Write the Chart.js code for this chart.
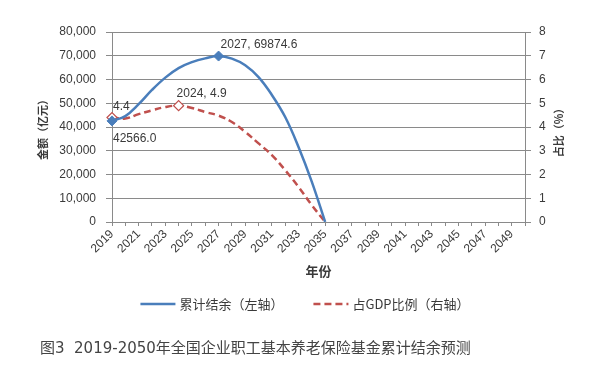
<!DOCTYPE html>
<html><head><meta charset="utf-8">
<script src="https://cdn.jsdelivr.net/npm/chart.js@4.4.1/dist/chart.umd.min.js"></script>
<style>
html,body{margin:0;padding:0;background:#fff;width:610px;height:380px;overflow:hidden}
#c{position:absolute;left:0;top:0}
#cap{position:absolute;left:40px;top:338px;font:15px "DejaVu Sans","Noto Sans CJK SC",sans-serif;color:#444;line-height:20px;white-space:pre}
</style></head><body>
<canvas id="c" width="610" height="380"></canvas>
<div id="cap">图3  2019-2050年全国企业职工基本养老保险基金累计结余预测</div>
<script>
const years = ['2019','2020','2021','2022','2023','2024','2025','2026','2027','2028','2029','2030','2031','2032','2033','2034','2035','2036','2037','2038','2039','2040','2041','2042','2043','2044','2045','2046','2047','2048','2049','2050'];
const balance = [42566.0, 44600, 49600, 55600, 60800, 64800, 67300, 68900, 69874.6, 68800, 66000, 61000, 53500, 44200, 31600, 16900, 0, null, null, null, null, null, null, null, null, null, null, null, null, null, null, null];
const gdpShare = [4.4, 4.36, 4.54, 4.7, 4.84, 4.9, 4.8, 4.63, 4.48, 4.21, 3.79, 3.31, 2.82, 2.18, 1.48, 0.71, 0, null, null, null, null, null, null, null, null, null, null, null, null, null, null, null];
const leftTicks = [0, 10000, 20000, 30000, 40000, 50000, 60000, 70000, 80000];
const rightTicks = [0, 1, 2, 3, 4, 5, 6, 7, 8];
const seriesNames = ['累计结余（左轴）', '占GDP比例（右轴）'];
const axisTitles = {x: '年份', left: '金额（亿元）', right: '占比（%）'};

const LAT = '"Liberation Sans", Arial, sans-serif';
const CJK = '"Noto Sans CJK SC", sans-serif';
const BLUE = '#4a7ebb', RED = '#c0504d', GRID = '#8a8a8a', TXT = '#3a3a3a';

const blueMarks = [0, 8];
const redMarks = [5, 0];

const labels = [
  {ds: 0, i: 8, text: years[8] + ', ' + balance[8].toFixed(1), dx: 2, dy: -11},
  {ds: 0, i: 0, text: balance[0].toFixed(1), dx: 1, dy: 18},
  {ds: 1, i: 5, text: years[5] + ', ' + gdpShare[5].toFixed(1), dx: -2, dy: -12},
  {ds: 1, i: 0, text: gdpShare[0].toFixed(1), dx: 1, dy: -11}
];

const extras = {
  id: 'extras',
  afterDatasetsDraw(chart) {
    const ctx = chart.ctx;
    ctx.save();
    ctx.font = '12px ' + LAT;
    ctx.fillStyle = TXT;
    ctx.textBaseline = 'middle';
    ctx.textAlign = 'left';
    for (const l of labels) {
      const el = chart.getDatasetMeta(l.ds).data[l.i];
      ctx.fillText(l.text, el.x + l.dx, el.y + l.dy);
    }
    ctx.restore();
  },
  afterDraw(chart) {
    const ctx = chart.ctx;
    const s = chart.scales.y1;
    ctx.save();
    ctx.font = 'bold 11px ' + CJK;
    ctx.fillStyle = TXT;
    ctx.textAlign = 'center';
    ctx.textBaseline = 'middle';
    ctx.translate(s.left + 34, (s.top + s.bottom) / 2 + 3);
    ctx.rotate(-Math.PI / 2);
    ctx.fillText(axisTitles.right, 0, 0);
    ctx.restore();

    ctx.save();
    ctx.font = '13px ' + CJK;
    const ds = chart.data.datasets;
    const lineW = 35, gap = 4, between = 30;
    let total = 0;
    const widths = ds.map(d => ctx.measureText(d.label).width);
    widths.forEach((w, k) => { total += lineW + gap + w + (k ? between : 0); });
    let x = (chart.width - total) / 2;
    const y = 304;
    ds.forEach((d, k) => {
      ctx.beginPath();
      ctx.strokeStyle = d.borderColor;
      ctx.lineWidth = 2.5;
      ctx.setLineDash(d.borderDash || []);
      ctx.moveTo(x, y); ctx.lineTo(x + lineW, y);
      ctx.stroke();
      ctx.setLineDash([]);
      ctx.fillStyle = TXT;
      ctx.textBaseline = 'middle';
      ctx.textAlign = 'left';
      ctx.fillText(d.label, x + lineW + gap, y);
      x += lineW + gap + widths[k] + between;
    });
    ctx.restore();
  }
};

new Chart(document.getElementById('c'), {
  type: 'line',
  data: {
    labels: years,
    datasets: [
      {
        label: seriesNames[0], data: balance, yAxisID: 'y',
        borderColor: BLUE, backgroundColor: BLUE, borderWidth: 2.5,
        tension: 0.4, fill: false,
        pointStyle: 'rectRot',
        pointRadius: balance.map((v, i) => blueMarks.includes(i) ? 5 : 0),
        pointBackgroundColor: BLUE, pointBorderColor: BLUE, pointBorderWidth: 1
      },
      {
        label: seriesNames[1], data: gdpShare, yAxisID: 'y1',
        borderColor: RED, backgroundColor: RED, borderWidth: 2.5, borderDash: [7, 4],
        tension: 0.4, fill: false,
        pointStyle: 'rectRot',
        pointRadius: gdpShare.map((v, i) => redMarks.includes(i) ? 5 : 0),
        pointBackgroundColor: '#ffffff', pointBorderColor: RED, pointBorderWidth: 1.2
      }
    ]
  },
  options: {
    responsive: false, animation: false, devicePixelRatio: 1,
    layout: {padding: {top: 32, bottom: 96, left: 0, right: 0}},
    plugins: {legend: {display: false}, tooltip: {enabled: false}},
    scales: {
      x: {
        type: 'category', offset: false,
        grid: {display: true, drawOnChartArea: false, drawTicks: true, tickLength: 4, color: GRID},
        border: {display: true, color: GRID},
        ticks: {autoSkip: false, maxRotation: 45, minRotation: 45, padding: 1, color: TXT,
          font: {size: 12, family: LAT},
          callback: (v, i) => (i % 2 === 0 ? years[i] : '')},
        title: {display: true, text: axisTitles.x, color: TXT, font: {size: 13, weight: 'bold', family: CJK}, padding: {top: 0, bottom: 5}},
        afterFit(s) { s.height = 62; }
      },
      y: {
        position: 'left', min: leftTicks[0], max: leftTicks[leftTicks.length - 1],
        afterBuildTicks(s) { s.ticks = leftTicks.map(v => ({value: v})); },
        grid: {color: GRID, tickLength: 6},
        border: {display: true, color: GRID},
        ticks: {padding: 10, color: TXT, font: {size: 12, family: LAT},
          callback: v => Number(v).toLocaleString('en-US')},
        title: {display: true, text: axisTitles.left, color: TXT, font: {size: 11, weight: 'bold', family: CJK}, padding: {top: 36, bottom: 0}},
        afterFit(s) { s.width = 112; }
      },
      y1: {
        position: 'right', min: rightTicks[0], max: rightTicks[rightTicks.length - 1],
        afterBuildTicks(s) { s.ticks = rightTicks.map(v => ({value: v})); },
        grid: {drawOnChartArea: false, color: GRID, tickLength: 6},
        border: {display: true, color: GRID},
        ticks: {padding: 8, color: TXT, font: {size: 12, family: LAT}},
        afterFit(s) { s.width = 85; }
      }
    }
  },
  plugins: [extras]
});
</script>
</body></html>
